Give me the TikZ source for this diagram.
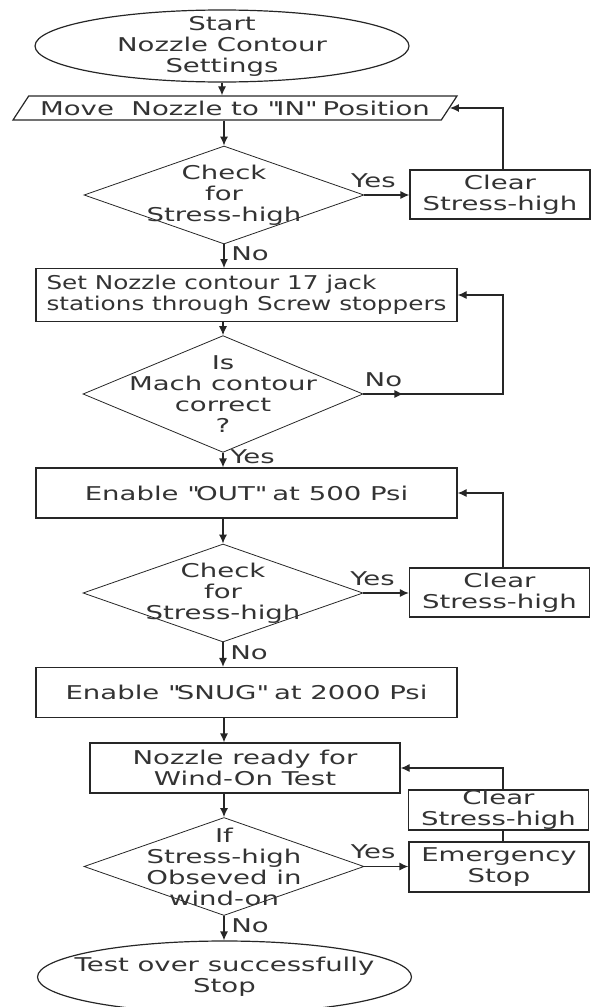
\documentclass[tikz,border=0pt]{standalone}
\usepackage{fontspec}
\setmainfont[FakeStretch=1.45]{DejaVu Sans}
\newfontfamily\squeezedfont[FakeStretch=1.3]{DejaVu Sans}
\usepackage{tikz}
\usetikzlibrary{arrows.meta, shapes.geometric, positioning}
\colorlet{colorLine}{black!85}
\colorlet{colorText}{black!80}
\tikzset{
  terminal/.style={draw, ellipse, minimum width=187pt, minimum height=36pt, inner xsep=-12pt, inner ysep=-6pt, align=center},
  io/.style={draw, trapezium, trapezium left angle=50, trapezium right angle=130, trapezium stretches body, minimum width=222pt, minimum height=12pt, inner ysep=1pt},
  decision/.style={draw, diamond, minimum width=140pt, minimum height=49pt, inner xsep=-25pt, inner ysep=-12pt, align=center, line width=0.4pt},
  process/.style={draw, rectangle, minimum width=210.5pt, minimum height=25pt, align=center},
  sideBox/.style={draw, rectangle, minimum width=90pt, minimum height=24.5pt, inner sep=0pt, align=center}
}

\begin{document}
\begin{tikzpicture}[x=0.5pt, y=-0.5pt, >={Latex[length=4.5pt,width=4pt]}, line width=0.6pt, color=colorLine, every node/.style={font=\fontsize{9.5}{10.5}\selectfont, text=colorText}]
\useasboundingbox (0,0) rectangle (592,1007);
\node[terminal] (start) at (222,46) {Start\\Nozzle Contour\\Settings};
\node[io] (moveIn) at (235,108) {Move\ \ Nozzle to \textquotedbl IN\textquotedbl{} Position};
\node[decision] (checkIn) at (224,195) {Check\\for\\Stress-high};
\node[sideBox] (clearIn) at (500,194.5) {Clear\\Stress-high};
\node[process, align=left, font=\squeezedfont\fontsize{9.5}{10.5}\selectfont] (setJacks) at (246.5,295) {Set Nozzle contour 17 jack\\stations through Screw stoppers};
\node[decision] (machOk) at (223,394) {Is\\Mach contour\\correct\\?};
\node[process] (enableOut) at (246.5,493) {Enable \textquotedbl OUT\textquotedbl{} at 500 Psi};
\node[decision] (checkOut) at (223,593) {Check\\for\\Stress-high};
\node[sideBox] (clearOut) at (499.5,592.5) {Clear\\Stress-high};
\node[process] (enableSnug) at (246.5,692.5) {Enable \textquotedbl SNUG\textquotedbl{} at 2000 Psi};
\node[process, minimum width=155pt] (ready) at (245,768) {Nozzle ready for\\Wind-On Test};
\node[sideBox, minimum height=20pt] (clearWind) at (498.5,810) {Clear\\Stress-high};
\node[sideBox, minimum height=25pt] (emergency) at (499,867) {Emergency\\Stop};
\node[decision] (checkWind) at (224,866.5) {If\\Stress-high\\Obseved in\\wind-on};
\node[terminal] (finish) at (224.5,977) {Test over successfully\\Stop};
\coordinate (ret) at (503,0);
% main flow
\draw[->] (start.south) -- (start.south |- moveIn.north);
\draw[->] (checkIn.north |- moveIn.south) -- (checkIn.north);
\draw[->] (checkIn.south) -- (checkIn.south |- setJacks.north) node[right, pos=0.4] (noIn) {No};
\draw[->] (setJacks.south -| machOk.north) -- (machOk.north);
\draw[->] (machOk.south) -- (machOk.south |- enableOut.north) node[right, pos=0.3] (yesMach) {Yes};
\draw[->] (enableOut.south -| checkOut.north) -- (checkOut.north);
\draw[->] (checkOut.south) -- (checkOut.south |- enableSnug.north) node[right, pos=0.4] (noOut) {No};
\draw[->] (enableSnug.south -| checkWind.north) -- (ready.north -| checkWind.north);
\draw[->] (ready.south -| checkWind.north) -- (checkWind.north);
\draw[->] (checkWind.south) -- (checkWind.south |- finish.north) node[right, pos=0.4] (noWind) {No};
% side branches
\draw[->] (checkIn.east) -- (clearIn.west |- checkIn.east) node[above, pos=0.2] (yesIn) {Yes};
\draw[->] (clearIn.north -| ret) |- (moveIn.east);
\draw[->] (machOk.east) -- ++(20pt,0) node[above, midway] (noMach) {No};
\draw[->] (machOk.east) -- (machOk.east -| ret) |- (setJacks.east);
\draw[->] (checkOut.east) -- (clearOut.west |- checkOut.east) node[above, pos=0.2] (yesOut) {Yes};
\draw[->] (clearOut.north -| ret) |- (enableOut.east);
\draw[->] (checkWind.east) -- (emergency.west |- checkWind.east) node[above, pos=0.2] (yesWind) {Yes};
\draw (emergency.north -| ret) -- (clearWind.south -| ret);
\draw[->] (clearWind.north -| ret) |- (ready.east);
\end{tikzpicture}
\end{document}
